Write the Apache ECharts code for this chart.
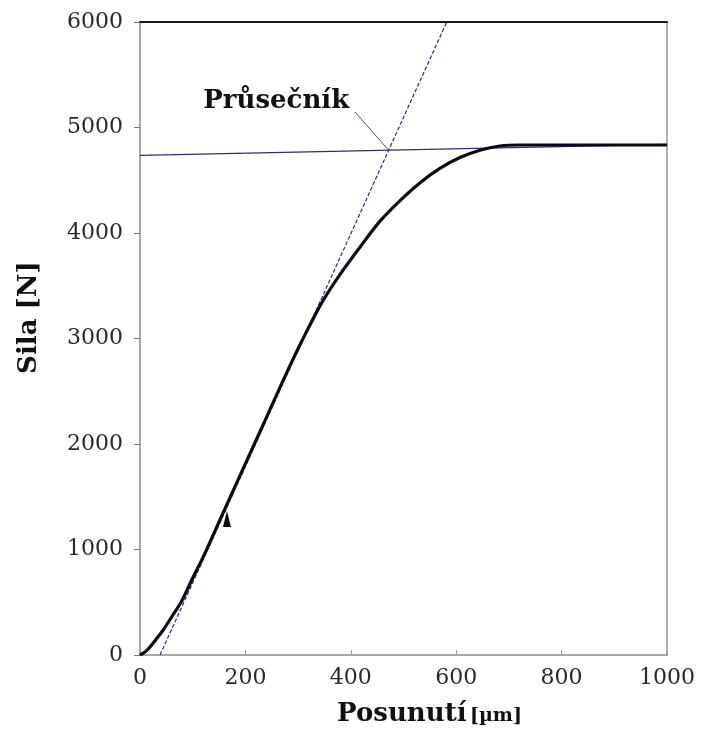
<!DOCTYPE html>
<html>
<head>
<meta charset="utf-8">
<script src="https://cdn.jsdelivr.net/npm/echarts@6/dist/echarts.min.js"></script>
<style>
  html, body { margin: 0; padding: 0; background: #fff; }
  #chart { width: 701px; height: 734px; }
</style>
</head>
<body>
<div id="chart"></div>
<script>
// Measured force–displacement curve
const posunuti = [0, 10, 19, 30, 44, 60, 80, 100, 120, 157, 197, 237, 276, 309, 345, 380, 418, 455, 493, 531, 569, 607, 645, 683, 720, 800, 1000];
const sila = [0, 30, 76, 145, 237, 360, 520, 730, 930, 1340, 1780, 2220, 2650, 2995, 3340, 3610, 3870, 4110, 4305, 4475, 4612, 4715, 4785, 4825, 4834, 4834, 4834];

// Plateau line (maximum force level)
const plateauX = [0, 1000];
const plateauY = [4735, 4840];

// Tangent to the linear part of the curve
const tangentX = [38, 582];
const tangentY = [0, 6000];

// Intersection annotation: label anchor and leader line
const labelText = 'Průsečník';
const labelAt = [120, 5250];
const leaderX = [408, 472];
const leaderY = [5147, 4784];

// Small triangle marker on the rising branch
const markerAt = [165, 1290];

// Axis ticks
const xTicks = { min: 0, max: 1000, step: 200 };
const yTicks = { min: 0, max: 6000, step: 1000 };

const zip = (a, b) => a.map((v, i) => [v, b[i]]);

const serif = '"DejaVu Serif", "Liberation Serif", serif';
const navy = '#2b2f7a';
const plain = v => String(v);

const chart = echarts.init(document.getElementById('chart'), null, { renderer: 'canvas' });

chart.setOption({
  animation: false,
  backgroundColor: '#ffffff',
  grid: { left: 140, right: 34, top: 22, bottom: 79, containLabel: false },
  xAxis: [
    {
      type: 'value',
      min: xTicks.min, max: xTicks.max, interval: xTicks.step,
      name: '{b|Posunutí} {s|[µm]}',
      nameLocation: 'middle',
      nameGap: 46,
      nameTextStyle: {
        padding: [0, 0, 0, 52],
        rich: {
          b: { fontFamily: serif, fontWeight: 'bold', fontSize: 26, color: '#111' },
          s: { fontFamily: serif, fontWeight: 'bold', fontSize: 19, color: '#111', padding: [5, 0, 0, 0] }
        }
      },
      axisLine: { show: true, onZero: false, lineStyle: { color: '#8a8a8a', width: 1.5 } },
      axisTick: { show: true, inside: true, length: 5, lineStyle: { color: '#9a9a9a' } },
      axisLabel: { fontFamily: serif, fontSize: 22, color: '#2a2a2a', margin: 12, formatter: plain },
      splitLine: { show: false }
    },
    {
      type: 'value',
      position: 'top',
      min: xTicks.min, max: xTicks.max,
      axisLine: { show: true, onZero: false, lineStyle: { color: '#1a1a1a', width: 2 } },
      axisTick: { show: false },
      axisLabel: { show: false },
      splitLine: { show: false }
    }
  ],
  yAxis: [
    {
      type: 'value',
      min: yTicks.min, max: yTicks.max, interval: yTicks.step,
      name: 'Sila [N]',
      nameLocation: 'middle',
      nameGap: 98,
      nameRotate: 90,
      nameTextStyle: { fontFamily: serif, fontWeight: 'bold', fontSize: 26, color: '#111', padding: [0, 0, 0, 42] },
      axisLine: { show: true, onZero: false, lineStyle: { color: '#8a8a8a', width: 1.5 } },
      axisTick: { show: true, inside: false, length: 6, lineStyle: { color: '#777' } },
      axisLabel: { fontFamily: serif, fontSize: 22, color: '#2a2a2a', margin: 17, formatter: plain },
      splitLine: { show: false }
    },
    {
      type: 'value',
      position: 'right',
      min: yTicks.min, max: yTicks.max,
      axisLine: { show: true, onZero: false, lineStyle: { color: '#9a9a9a', width: 1.5 } },
      axisTick: { show: false },
      axisLabel: { show: false },
      splitLine: { show: false }
    }
  ],
  series: [
    {
      name: 'plateau',
      type: 'line',
      data: zip(plateauX, plateauY),
      symbol: 'none',
      lineStyle: { color: navy, width: 1.2 },
      z: 2
    },
    {
      name: 'tangent',
      type: 'line',
      data: zip(tangentX, tangentY),
      symbol: 'none',
      lineStyle: { color: navy, width: 1.2, type: [4, 2] },
      z: 2
    },
    {
      name: 'leader',
      type: 'line',
      data: zip(leaderX, leaderY),
      symbol: 'none',
      lineStyle: { color: '#4a4d7a', width: 1 },
      z: 2
    },
    {
      name: 'curve',
      type: 'line',
      data: zip(posunuti, sila),
      symbol: 'none',
      smooth: 0.3,
      lineStyle: { color: '#0a0a14', width: 3.2 },
      z: 3
    },
    {
      name: 'marker',
      type: 'scatter',
      data: [markerAt],
      symbol: 'triangle',
      symbolSize: [8, 16],
      itemStyle: { color: '#0a0a14', opacity: 1 },
      z: 4
    },
    {
      name: 'annotation',
      type: 'scatter',
      data: [labelAt],
      symbolSize: 0,
      itemStyle: { opacity: 1 },
      label: {
        show: true,
        position: 'right',
        distance: 0,
        formatter: labelText,
        fontFamily: serif,
        fontWeight: 'bold',
        fontSize: 26,
        color: '#111'
      },
      z: 5
    }
  ]
});
</script>
</body>
</html>
